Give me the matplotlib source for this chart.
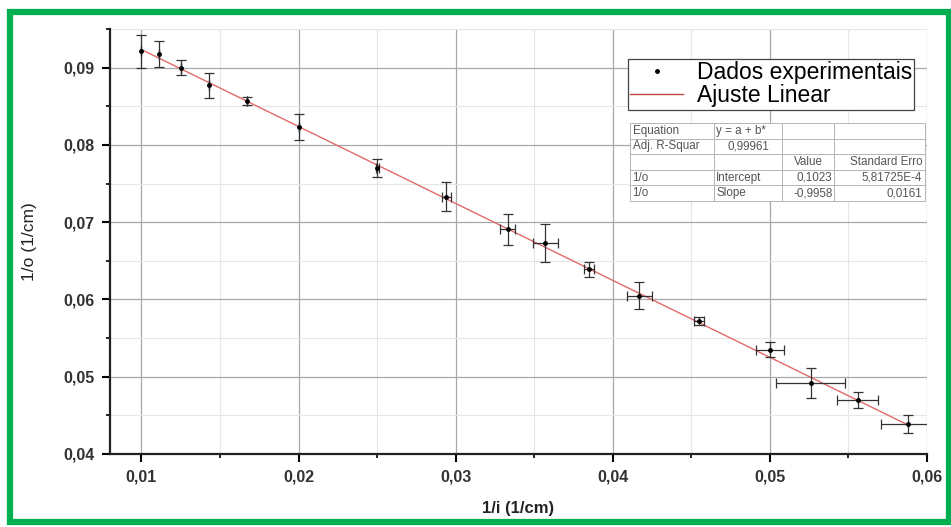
import matplotlib
matplotlib.use("Agg")
import matplotlib.pyplot as plt
from matplotlib.patches import Rectangle
from matplotlib.lines import Line2D
from matplotlib.ticker import MultipleLocator, FuncFormatter
import numpy as np

plt.rcParams['font.family'] = ['Liberation Sans', 'DejaVu Sans']

# 1/i and 1/o with their uncertainties
inv_i = [0.0100, 0.0111, 0.0125, 0.0143, 0.0167, 0.0200, 0.0250, 0.0294, 0.0333,
         0.0357, 0.0385, 0.0417, 0.0455, 0.0500, 0.0526, 0.0556, 0.0588]
inv_o = [0.0921, 0.0918, 0.0900, 0.0877, 0.0857, 0.0823, 0.0770, 0.0733, 0.0691,
         0.0673, 0.0639, 0.0605, 0.0572, 0.0535, 0.0492, 0.0470, 0.0439]
err_o = [0.0021, 0.0017, 0.0010, 0.0016, 0.0005, 0.0017, 0.0012, 0.0019, 0.0020,
         0.0025, 0.0010, 0.0017, 0.0005, 0.0010, 0.0019, 0.0010, 0.0012]
err_i = [0.0, 0.0, 0.0, 0.0, 0.0, 0.0, 0.0001, 0.0003, 0.0005,
         0.0008, 0.0003, 0.0008, 0.0003, 0.0009, 0.0022, 0.0013, 0.0017]

# linear fit results
intercept = 0.1023
slope = -0.9958

fit_table = [
    ["Equation", "y = a + b*", "", ""],
    ["Adj. R-Squar", "0,99961", "", ""],
    ["", "", "Value", "Standard Erro"],
    ["1/o", "Intercept", "0,1023", "5,81725E-4"],
    ["1/o", "Slope", "-0,9958", "0,0161"],
]

W, H = 951, 527
fig = plt.figure(figsize=(W / 100, H / 100), dpi=100)
fig.patches.append(Rectangle((9.5 / W, 5 / H), 939 / W, 510 / H, transform=fig.transFigure,
                             fill=False, edgecolor="#00b050", linewidth=4.5, zorder=10))

ax = fig.add_axes([110 / W, (H - 454) / H, (927 - 110) / W, (454 - 29) / H])
ax.set_xlim(0.008, 0.06)
ax.set_ylim(0.04, 0.095)

ax.xaxis.set_major_locator(MultipleLocator(0.01))
ax.xaxis.set_minor_locator(MultipleLocator(0.005))
ax.yaxis.set_major_locator(MultipleLocator(0.01))
ax.yaxis.set_minor_locator(MultipleLocator(0.005))
comma = FuncFormatter(lambda v, p: f"{v:.2f}".replace(".", ","))
ax.xaxis.set_major_formatter(comma)
ax.yaxis.set_major_formatter(comma)

ax.grid(which="major", color="#a8a8a8", linewidth=0.9)
ax.grid(which="minor", color="#e6e6e6", linewidth=0.8)
ax.set_axisbelow(True)

for s in ["top", "right"]:
    ax.spines[s].set_visible(False)
for s in ["left", "bottom"]:
    ax.spines[s].set_linewidth(1.6)
    ax.spines[s].set_color("#222222")

ax.tick_params(which="major", direction="out", length=6, width=1.5, labelsize=11.5, pad=5)
ax.tick_params(which="minor", direction="out", length=3, width=1.2)
for lab in ax.get_xticklabels() + ax.get_yticklabels():
    lab.set_fontweight("bold")
    lab.set_color("#333333")

xs = np.array(inv_i)
ax.plot([xs[0], xs[-1]], [intercept + slope * xs[0], intercept + slope * xs[-1]],
        color="#e06a6a", linewidth=1.0, zorder=2)
ax.errorbar(inv_i, inv_o, yerr=err_o, xerr=err_i, fmt="o", markersize=2.5,
            color="black", ecolor="#333333", elinewidth=0.9, capsize=3.5, capthick=0.9,
            zorder=3)

handles = [Line2D([], [], linestyle="none", marker="o", markersize=2.5, color="black"),
           Line2D([], [], color="#c04848", linewidth=1.0)]
leg = ax.legend(handles, ["Dados experimentais", "Ajuste Linear"], loc="upper left",
                bbox_to_anchor=(628 / W, 1 - 59 / H), bbox_transform=fig.transFigure,
                fontsize=16.5, frameon=True, fancybox=False, borderpad=0.1,
                handlelength=2.3, handletextpad=0.6, labelspacing=0.0,
                borderaxespad=0, framealpha=1)
leg.get_frame().set_edgecolor("#444444")
leg.get_frame().set_linewidth(0.9)

ax.set_xlabel("1/i (1/cm)", fontsize=12, fontweight="bold", color="#222222", labelpad=12)
ax.set_ylabel("1/o (1/cm)", fontsize=12.5, color="#222222", labelpad=19)

# fit summary table
x0, x1, y0, y1 = 630, 925, 123, 201
tbl = ax.table(cellText=fit_table, colWidths=[84, 68, 52, 91], cellLoc="left",
               bbox=[(x0 - 110) / 817, (454 - y1) / 425, (x1 - x0) / 817, (y1 - y0) / 425])
tbl.set_zorder(5)
tbl.auto_set_font_size(False)
tbl.set_fontsize(8.4)
for (r, c), cell in tbl.get_celld().items():
    cell.set_edgecolor("#b5b5b5")
    cell.set_linewidth(0.7)
    cell.set_facecolor("white")
    cell.get_text().set_color("#555555")
    cell.PAD = 0.03
    loc = "left"
    if (c >= 2 and r >= 3) or (c == 3 and r == 2):
        loc = "right"
    elif (c == 2 and r == 2) or (r == 1 and c == 1):
        loc = "center"
    cell._loc = loc
    cell.get_text().set_horizontalalignment(loc)

fig.savefig("out.png", dpi=100)
